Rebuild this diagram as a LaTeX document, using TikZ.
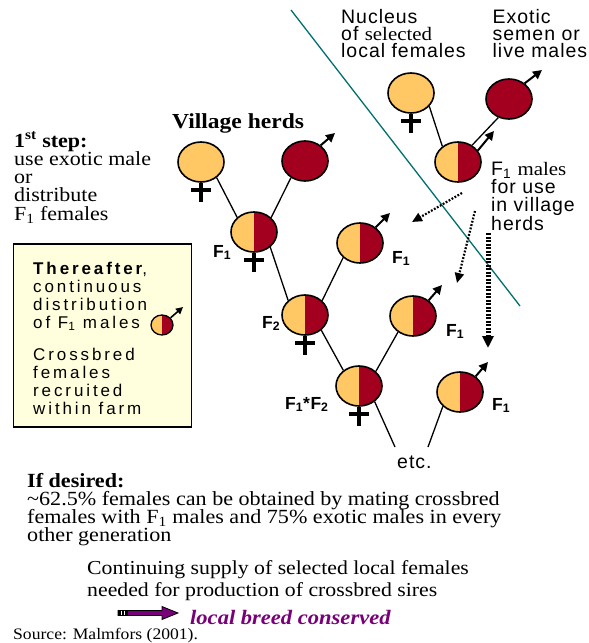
\documentclass[tikz,border=0pt]{standalone}
\usepackage{fontspec}
\setmainfont{Liberation Serif}
\newfontfamily\srf{Liberation Serif}[FakeStretch=1.1]
\newfontfamily\sns{Liberation Sans}[LetterSpace=5]
\newfontfamily\boxsns{Liberation Sans}[LetterSpace=17]
\newfontfamily\lblsns{Liberation Sans}[LetterSpace=3]
\usetikzlibrary{shapes.geometric,arrows.meta,backgrounds}
\definecolor{orangec}{RGB}{255,200,100}
\definecolor{redc}{RGB}{163,0,32}
\definecolor{boxc}{RGB}{255,255,221}
\definecolor{tealc}{RGB}{0,112,112}
\definecolor{purpc}{RGB}{120,0,120}
\newcommand\shadowfor[5]{% name, rx, ry, dx, dy
  \fill[redc] ([xshift=#4,yshift=0.4*#5]#1.center) ellipse [x radius=#2, y radius=#3];
  \begin{scope}
    \clip ([xshift=-40pt,yshift=-40pt]#1.center) rectangle ([yshift=40pt]#1.center);
    \fill[orangec] ([xshift=-0.4*#4,yshift=-#5]#1.center) ellipse [x radius=#2, y radius=#3];
  \end{scope}}
\newcommand\tight{\lineskiplimit=-100pt\relax}
\begin{document}
\begin{tikzpicture}[x=1pt,y=-1pt,
  animal/.style={ellipse, draw=black, line width=1.6pt, minimum width=46pt, minimum height=40pt, inner sep=0pt},
  femnode/.style={animal, fill=orangec},
  malenode/.style={animal, fill=redc},
  halfnode/.style={animal, path picture={
     \fill[orangec] (path picture bounding box.south west) rectangle (path picture bounding box.north);
     \fill[redc] (path picture bounding box.south) rectangle (path picture bounding box.north east);}},
  link/.style={line width=1.3pt},
  malearrow/.style={line width=2pt, -{Triangle[length=9pt,width=9pt]}},
  smallarrow/.style={line width=1.6pt, -{Triangle[length=7pt,width=7pt]}},
  dotarrow/.style={line width=2.2pt, dash pattern=on 1.8pt off 1.6pt, -{Triangle[length=10pt,width=9pt]}},
  bigdot/.style={line width=5pt, dash pattern=on 2pt off 1.5pt, -{Triangle[length=12pt,width=11pt]}},
  femcross/.pic={\draw[line width=4pt] (0,0) -- (0,19) (-10,7) -- (10,7);},
  txt/.style={anchor=base west, inner sep=0pt, align=left},
  lbl/.style={anchor=base west, inner sep=0pt, font=\fontsize{17.5}{18}\lblsns\bfseries},
]
\useasboundingbox[fill=white] (0,0) rectangle (589,643);

% divider
\draw[tealc, line width=1.3pt] (291,10) -- (520,306);

% box
\node[draw, line width=1.5pt, fill=boxc, minimum width=178pt, minimum height=183pt, inner sep=0pt, anchor=north west] (box) at (12.7,243) {};

% animals
\node[femnode] (vf) at (201,162) {};
\node[malenode] (vm) at (305,161) {};
\node[halfnode] (f1) at (254,232) {};
\node[halfnode] (m1) at (360,243) {};
\node[halfnode] (f2) at (305,315) {};
\node[halfnode] (m2) at (413,316) {};
\node[halfnode] (f12) at (359,386) {};
\node[halfnode] (m3) at (460,392) {};
\node[femnode] (nf) at (411,93) {};
\node[malenode] (em) at (509,99) {};
\node[halfnode] (nm) at (458,162) {};
\node[halfnode, minimum width=22pt, minimum height=20pt, line width=1.3pt] (bm) at (162,325) {};

\begin{pgfonlayer}{background}
  \foreach \n in {f1,m1,f2,m2,f12,m3,nm}{\shadowfor{\n}{23pt}{20pt}{2.5pt}{2.5pt}}
  \shadowfor{bm}{11pt}{10pt}{1.5pt}{1.5pt}
\end{pgfonlayer}

% connectors
\draw[link] (vf.-45) -- (f1.139);
\draw[link] (vm.230) -- (f1.40);
\draw[link] (f1.-43) -- (f2.139);
\draw[link] (m1.221) -- (f2.40);
\draw[link] (f2.-43) -- (f12.135);
\draw[link] (m2.227) -- (f12.41);
\coordinate (etcL) at (395,447);
\coordinate (etcR) at (428,447);
\draw[link] (f12.-45) -- (etcL);
\draw[link] (m3.220) -- (etcR);
\draw[link] (nf.-36) -- (nm.135);
\draw[link] (em.-120) -- (nm.50);

% male symbols
\coordinate (vmT) at (335,133);
\coordinate (m1T) at (390,213);
\coordinate (m2T) at (442,285);
\coordinate (m3T) at (488,362);
\coordinate (emT) at (542,70);
\coordinate (nmT) at (494,131);
\coordinate (bmT) at (183,307);
\draw[malearrow] (vm.45) -- (vmT);
\draw[malearrow] (m1.45) -- (m1T);
\draw[malearrow] (m2.45) -- (m2T);
\draw[malearrow] (m3.45) -- (m3T);
\draw[malearrow] (em.45) -- (emT);
\draw[malearrow] (nm.30) -- (nmT);
\draw[smallarrow] (bm.40) -- (bmT);

% female symbols
\foreach \n in {vf,f1,f2,f12,nf}{\pic at (\n.south) {femcross};}

% dotted distribution arrows
\coordinate (d1s) at (462,193);
\coordinate (d1e) at (412,222);
\coordinate (d2s) at (475,211);
\coordinate (d2e) at (457,283);
\coordinate (d3s) at (488,233);
\coordinate (d3e) at (488,348);
\draw[dotarrow] (d1s) -- (d1e);
\draw[dotarrow] (d2s) -- (d2e);
\draw[bigdot] (d3s) -- (d3e);

% labels
\node[lbl] (lf1) at (213,257) {F\textsubscript{1}};
\node[lbl] (lm1) at (392,263) {F\textsubscript{1}};
\node[lbl] (lf2) at (262,328) {F\textsubscript{2}};
\node[lbl] (lm2) at (446,336) {F\textsubscript{1}};
\node[lbl] (lf12) at (285,409) {F\textsubscript{1}*F\textsubscript{2}};
\node[lbl] (lm3) at (492,410) {F\textsubscript{1}};

% texts (anchor = baseline of the last line)
\node[txt, font=\fontsize{19.5}{17}\sns\tight] (nuc) at (341,57.5) {Nucleus\\of {\srf\fontsize{19}{17}\selectfont selected}\\local females};
\node[txt, font=\fontsize{19.5}{17}\sns\tight] (exo) at (492.5,57.5) {Exotic\\semen or\\live males};
\node[txt, font=\fontsize{19.5}{18.3}\sns\tight] (f1txt) at (491,230) {F\textsubscript{1} {\srf\fontsize{19}{18.3}\selectfont males}\\for use\\in village\\herds};
\node[txt, font=\fontsize{21.4}{22}\srf\bfseries] (vh) at (172,128) {Village herds};
\node[txt, font=\fontsize{20}{18.3}\srf\tight] (step) at (14,220.2) {\textbf{1\textsuperscript{st} step:}\\use exotic male\\or\\distribute\\F\textsubscript{1} females};
\node[txt, font=\fontsize{17}{18}\boxsns\tight] (bt1) at (33,328) {\textbf{Thereafter},\\continuous\\distribution\\of F\textsubscript{1} males};
\node[txt, font=\fontsize{17}{18}\boxsns\tight] (bt2) at (33,414) {Crossbred\\females\\recruited\\within farm};
\node[txt, font=\fontsize{19.5}{18}\sns] (etc) at (397,468) {etc.};
\node[txt, font=\fontsize{20.1}{18}\srf\tight] (ifd) at (27,541) {\textbf{If desired:}\\\textasciitilde 62.5\% females can be obtained by mating crossbred\\females with F\textsubscript{1} males and 75\% exotic males in every\\other generation};
\node[txt, font=\fontsize{19.8}{22}\srf\tight] (cont) at (87,596) {Continuing supply of selected local females\\needed for production of crossbred sires};

% conserved arrow
\draw[fill=purpc, line width=0.8pt, line join=miter] (118,610.5) -- (162,610.5) -- (162,606.5) -- (178,613) -- (162,619.5) -- (162,615.5) -- (118,615.5) -- cycle;
\fill[black] (118,610) rectangle (128,616);
\draw[white, line width=0.6pt] (121,610.6) -- (121,615.4) (124.5,610.6) -- (124.5,615.4);
\node[txt, font=\fontsize{20.5}{22}\srf\bfseries\itshape, text=purpc] (lbc) at (190,624) {local breed conserved};
\node[txt, font=\fontsize{16}{18}\srf] (src) at (13,639) {Source: Malmfors (2001).};
\end{tikzpicture}
\end{document}
